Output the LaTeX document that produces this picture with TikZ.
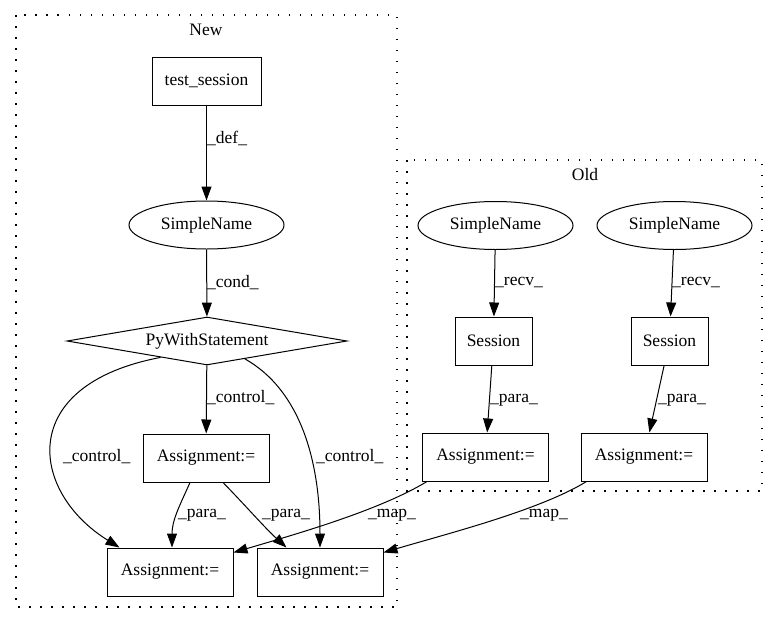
\documentclass[tikz,border=0pt]{standalone}
\usepackage{fontspec}
\setmainfont{Liberation Serif}
\usetikzlibrary{arrows.meta,shapes.geometric,calc}
\begin{document}
\begin{tikzpicture}[x=1pt,y=-1pt,
  every node/.style={font=\fontsize{17.5}{20}\selectfont},
  box/.style={draw,line width=1pt,rectangle,inner sep=0pt,minimum height=48pt},
  ell/.style={draw,line width=1pt,ellipse,inner sep=0pt,minimum width=155pt,minimum height=48pt},
  dia/.style={draw,line width=1pt,diamond,aspect=5.8,inner sep=0pt,minimum width=280pt,minimum height=48pt},
  cluster/.style={draw,line width=1.2pt,dash pattern=on 1.5pt off 9.5pt},
  edge/.style={draw,line width=1pt,-{Triangle[length=14pt,width=10pt]}},
  lab/.style={anchor=west,inner sep=0pt}]
\useasboundingbox (0,0) rectangle (779,624);
% clusters
\draw[cluster] (16,15) rectangle (397,607);
\node (newlab) at (206,30) {New};
\draw[cluster] (407,160) rectangle (762,491);
\node (oldlab) at (585,175) {Old};
% nodes
\node[box,minimum width=109pt] (ts) at (206.5,81) {test\_session};
\node[ell] (sn) at (206.5,225) {SimpleName};
\node[dia] (pw) at (207,341) {PyWithStatement};
\node[box,minimum width=126pt] (a1) at (206,458) {Assignment:=};
\node[box,minimum width=126pt] (a2) at (170,572) {Assignment:=};
\node[box,minimum width=126pt] (a3) at (320,572) {Assignment:=};
\node[ell] (snL) at (495.5,225.5) {SimpleName};
\node[ell] (snR) at (674.5,225.5) {SimpleName};
\node[box,minimum width=77pt] (sL) at (493.5,341) {Session};
\node[box,minimum width=77pt] (sR) at (669.5,341) {Session};
\node[box,minimum width=126pt] (aL) at (485.5,457) {Assignment:=};
\node[box,minimum width=126pt] (aR) at (644,457) {Assignment:=};
% edges
\draw[edge] (ts) -- (sn);
\draw[edge] (sn) -- (pw);
\draw[edge] (pw) -- (a1);
\draw[edge] ($(pw.south)!0.33!(pw.west)$) .. controls (15,385) and (30,492) .. ($(a2.north west)+(13,0)$);
\draw[edge] ($(pw.south)!0.27!(pw.east)$) .. controls (300,390) and (320,460) .. (a3.north);
\draw[edge] ($(a1.south)+(-16,0)$) .. controls (180,505) and (172,520) .. ($(a2.north)+(2,0)$);
\draw[edge] ($(a1.south)+(17,0)$) .. controls (245,505) and (265,528) .. ($(a3.north west)+(30,0)$);
\draw[edge] ($(aL.south west)+(5,0)$) .. controls (380,510) and (300,533) .. ($(a2.north east)+(0,5)$);
\draw[edge] ($(aR.south west)+(6,0)$) .. controls (540,510) and (450,533) .. ($(a3.north east)+(0,5)$);
\draw[edge] (snL) -- (sL);
\draw[edge] (snR) -- (sR);
\draw[edge] (sL) -- (aL);
\draw[edge] (sR) -- (aR);
% labels
\node[lab] (l1) at (207,138) {\_def\_};
\node[lab] (l2) at (207,283) {\_cond\_};
\node[lab] (l3) at (207,398) {\_control\_};
\node[lab] (l4) at (63,457) {\_control\_};
\node[lab] (l5) at (316,457) {\_control\_};
\node[lab] (l6) at (178,515) {\_para\_};
\node[lab] (l7) at (262,515) {\_para\_};
\node[lab] (l8) at (368,515) {\_map\_};
\node[lab] (l9) at (520,515) {\_map\_};
\node[lab] (l10) at (495,283) {\_recv\_};
\node[lab] (l11) at (672,283) {\_recv\_};
\node[lab] (l12) at (490,400) {\_para\_};
\node[lab] (l13) at (658,400) {\_para\_};
\end{tikzpicture}
\end{document}
